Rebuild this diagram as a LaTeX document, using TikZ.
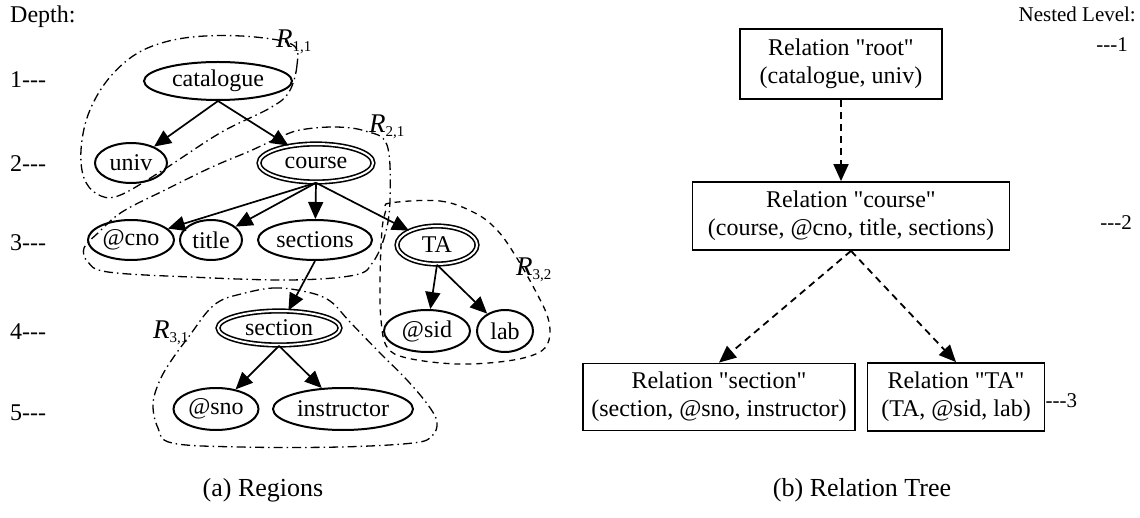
\documentclass[tikz,border=0pt]{standalone}
\usepackage{fontspec}
\setmainfont{Liberation Serif}[Ligatures=TeXOff]
\usetikzlibrary{arrows.meta,shapes.geometric}

\begin{document}
\begin{tikzpicture}[x=1pt,y=-1pt,
  every node/.style={font=\fontsize{24}{28}\selectfont, inner sep=0pt},
  elem/.style={ellipse, draw, line width=2pt},
  delem/.style={ellipse, draw, line width=1.6pt, double, double distance=2pt},
  treeedge/.style={line width=1.7pt, -{Triangle[length=17pt,width=15pt]}},
  region/.style={line width=1.3pt, dash pattern=on 9pt off 4pt on 1.5pt off 4pt},
  dregion/.style={line width=1.3pt, dash pattern=on 6pt off 5pt},
  rel/.style={draw, rectangle, line width=1.8pt, align=center},
  reledge/.style={line width=1.8pt, dash pattern=on 7pt off 5pt, -{Triangle[length=17pt,width=15pt]}},
  plain/.style={anchor=base west},
  levellabel/.style={anchor=base east, font=\fontsize{21}{24}\selectfont},
  regionlabel/.style={anchor=west},
]
\useasboundingbox (0,0) rectangle (1140,518);

% ---------- (a) Regions: depth scale ----------
\node[plain] (depth) at (10,23) {Depth:};
\node[plain] (d1) at (10,88) {1---};
\node[plain] (d2) at (10,172) {2---};
\node[plain] (d3) at (10,251) {3---};
\node[plain] (d4) at (10,340) {4---};
\node[plain] (d5) at (10,420) {5---};

% ---------- schema tree ----------
\node[elem, minimum width=148, minimum height=38] (cat) at (218,81) {catalogue};
\node[elem, minimum width=72, minimum height=40] (univ) at (131,163) {univ};
\node[delem, minimum width=114, minimum height=38] (course) at (316,163) {course};
\node[elem, minimum width=86, minimum height=40] (cno) at (131,240) {@cno};
\node[elem, minimum width=62, minimum height=40] (title) at (211,240) {title};
\node[elem, minimum width=114, minimum height=40] (sections) at (315,240) {sections};
\node[delem, minimum width=80, minimum height=38] (ta) at (437,245) {TA};
\node[elem, minimum width=86, minimum height=42] (sid) at (427,331) {@sid};
\node[elem, minimum width=56, minimum height=42] (lab) at (505,331) {lab};
\node[delem, minimum width=122, minimum height=34] (section) at (279,328) {section};
\node[elem, minimum width=85, minimum height=42] (sno) at (216,409) {@sno};
\node[elem, minimum width=140, minimum height=42] (instr) at (343,409) {instructor};

\draw[treeedge] (cat.south) -- (univ);
\draw[treeedge] (cat.south) -- (course);
\draw[treeedge] (course.south) -- (cno);
\draw[treeedge] (course.south) -- (title);
\draw[treeedge] (course.south) -- (sections);
\draw[treeedge] (course.south) -- (ta);
\draw[treeedge] (sections.south) -- (section);
\draw[treeedge] (section.south) -- (sno);
\draw[treeedge] (section.south) -- (instr);
\draw[treeedge] (ta.south) -- (sid);
\draw[treeedge] (ta.south) -- (lab);

% ---------- regions ----------
\draw[region] plot[smooth cycle, tension=0.6] coordinates {
  (293,45) (297,65) (289,92) (270,108) (220,133) (160,172) (118,196)
  (97,194) (84,178) (81,150) (88,115) (106,82) (133,56) (165,42) (205,36) (255,37)};
\draw[region] plot[smooth cycle, tension=0.6] coordinates {
  (300,130) (335,127) (365,131) (387,145) (390,200) (385,235) (373,262)
  (355,275) (290,280) (190,277) (108,272) (88,262) (84,248) (98,233)
  (122,212) (165,190) (212,167) (250,151) (278,138)};
\draw[region] plot[smooth cycle, tension=0.6] coordinates {
  (237,295) (273,288) (307,292) (330,301) (350,322) (380,353) (407,380)
  (428,405) (437,422) (432,436) (413,443) (340,447) (240,447) (172,443)
  (158,428) (153,404) (160,380) (173,358) (190,335) (207,312) (220,301)};
\draw[dregion] plot[smooth cycle, tension=0.6] coordinates {
  (390,203) (440,201) (475,213) (497,230) (515,255) (535,290) (548,318)
  (549,340) (538,353) (507,361) (457,364) (407,358) (387,347) (381,320)
  (380,280) (382,230) (386,210)};

\node[regionlabel] (r11) at (276,42) {{\fontsize{27}{27}\selectfont\itshape R}\raisebox{-4pt}{\fontsize{15}{15}\selectfont 1,1}};
\node[regionlabel] (r21) at (369,127) {{\fontsize{27}{27}\selectfont\itshape R}\raisebox{-4pt}{\fontsize{15}{15}\selectfont 2,1}};
\node[regionlabel] (r31) at (153,333) {{\fontsize{27}{27}\selectfont\itshape R}\raisebox{-4pt}{\fontsize{15}{15}\selectfont 3,1}};
\node[regionlabel] (r32) at (516,270) {{\fontsize{27}{27}\selectfont\itshape R}\raisebox{-4pt}{\fontsize{15}{15}\selectfont 3,2}};

% ---------- (b) Relation tree ----------
\node[levellabel] (nested) at (1136,22) {Nested Level:};
\node[levellabel] (n1) at (1128,52) {---1};
\node[levellabel] (n2) at (1132,230) {---2};

\node[rel, minimum width=202, minimum height=70] (rroot) at (841,64)
  {Relation "root"\\(catalogue, univ)};
\node[rel, minimum width=317, minimum height=68] (rcourse) at (851,216)
  {Relation "course"\\(course, @cno, title, sections)};
\node[rel, minimum width=272, minimum height=67] (rsection) at (719,397)
  {Relation "section"\\(section, @sno, instructor)};
\node[rel, minimum width=177, minimum height=68] (rta) at (956,397)
  {Relation "TA"\\(TA, @sid, lab)};
\node[anchor=west, font=\fontsize{21}{24}\selectfont] (n3) at ([yshift=-4pt]rta.east) {---3};

\draw[reledge] (rroot.south) -- (rroot.south |- rcourse.north);
\draw[reledge] (rcourse.south) -- (rsection.north);
\draw[reledge] (rcourse.south) -- (rta.north);

% ---------- captions ----------
\node[font=\fontsize{26}{28}\selectfont] (capa) at (263,490) {(a) Regions};
\node[font=\fontsize{26}{28}\selectfont] (capb) at (862,490) {(b) Relation Tree};
\end{tikzpicture}
\end{document}
